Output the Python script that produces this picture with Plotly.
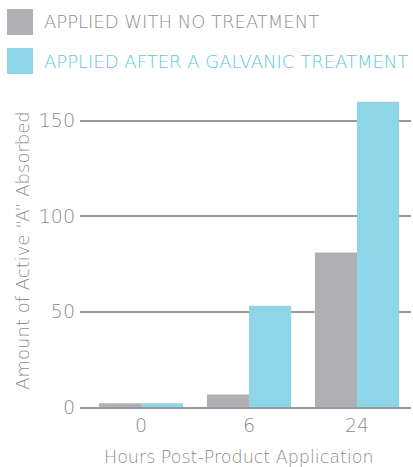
import plotly.graph_objects as go

categories = ["0", "6", "24"]
no_treatment = [2, 6.5, 81]
galvanic = [2, 53, 160]
series_names = ["APPLIED WITH NO TREATMENT", "APPLIED AFTER A GALVANIC TREATMENT"]
x_title = "Hours Post-Product Application"
y_title = "Amount of Active “A” Absorbed"
colors = ["#b0afb4", "#8dd5e7"]
text_colors = ["#8f8f93", "#5cc8e0"]

font_family = "'DejaVu Sans', sans-serif"
W, H = 413, 467
L, R, T, B = 80, 2, 94, 60
pw, ph = W - L - R, H - T - B


def px(x):
    return (x - L) / pw


def py(y):
    return (H - B - y) / ph


fig = go.Figure()
fig.add_trace(go.Bar(x=categories, y=no_treatment, name=series_names[0],
                     marker=dict(color=colors[0], line=dict(width=0))))
fig.add_trace(go.Bar(x=categories, y=galvanic, name=series_names[1],
                     marker=dict(color=colors[1], line=dict(width=0))))

# custom legend (large swatches)
for i, (name, c, tc) in enumerate(zip(series_names, colors, text_colors)):
    top = 9 + i * 39
    bot = 35 + i * 39
    fig.add_shape(type="rect", xref="paper", yref="paper",
                  x0=px(7), x1=px(33), y0=py(bot), y1=py(top),
                  fillcolor=c, line=dict(width=0), layer="above")
    fig.add_annotation(xref="paper", yref="paper", x=px(42), y=py((top + bot) / 2),
                       text=name, showarrow=False, xanchor="left", yanchor="middle",
                       font=dict(family=font_family, size=18, color=tc, weight=200))

# x axis title
fig.add_annotation(xref="paper", yref="paper", x=px(239), y=py(457),
                   text=x_title, showarrow=False, xanchor="center", yanchor="middle",
                   font=dict(family=font_family, size=17.5, color="#8c8c8c", weight=200))

fig.update_layout(
    width=W, height=H,
    margin=dict(l=L, r=R, t=T, b=B),
    paper_bgcolor="white", plot_bgcolor="white",
    barmode="group", bargap=0.22, bargroupgap=0,
    showlegend=False,
    font=dict(family=font_family, color="#8c8c8c", size=17, weight=200),
    xaxis=dict(
        showline=True, linecolor="#999999", linewidth=1.5, automargin=False,
        ticks="", range=[-0.565, 2.5], tickfont=dict(size=19, color="#8c8c8c", weight=200),
    ),
    yaxis=dict(
        title=dict(text=y_title, font=dict(size=18, color="#8c8c8c", weight=200), standoff=4),
        range=[0, 164], tickvals=[0, 50, 100, 150], automargin=False,
        showgrid=True, gridcolor="#9a9a9a", gridwidth=1.5,
        zeroline=False, ticks="", ticklabelstandoff=4,
        tickfont=dict(size=19, color="#8c8c8c", weight=200),
    ),
)

fig.write_html("out.html", config={"displayModeBar": False},
               post_script="document.body.style.margin='0';document.body.style.overflow='hidden';")
